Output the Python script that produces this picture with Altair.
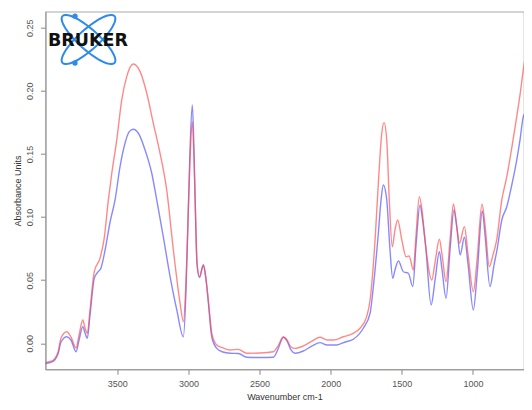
import altair as alt
import pandas as pd
import numpy as np

# Sample 1 (red) spectrum: wavenumber (cm-1) and absorbance
wn_red = [4005, 3959, 3917, 3896, 3856, 3826, 3790, 3769, 3743, 3727, 3711, 3692, 3662, 3622, 3594,
          3563, 3539, 3504, 3469, 3434, 3388, 3340, 3293, 3247, 3200, 3153, 3106, 3059, 3036, 3017,
          3003, 2989, 2973, 2961, 2950, 2940, 2923, 2895, 2880, 2860, 2836, 2801, 2757, 2708, 2649,
          2590, 2497, 2403, 2370, 2333, 2307, 2279, 2251, 2192, 2131, 2075, 2025, 1981, 1911, 1841,
          1794, 1747, 1723, 1688, 1665, 1641, 1625, 1606, 1588, 1567, 1548, 1529, 1500, 1470, 1449,
          1419, 1400, 1377, 1358, 1337, 1289, 1266, 1236, 1217, 1189, 1161, 1137, 1118, 1095, 1060,
          1034, 997, 971, 936, 915, 885, 859, 833, 797, 762, 727, 692, 669, 641, 617, 603, 588]
abs_red = [-0.0152, -0.0140, -0.0069, 0.0042, 0.0092, 0.0050, -0.0037, 0.0066, 0.0185, 0.0121, 0.0079,
           0.0264, 0.0567, 0.0673, 0.0819, 0.1136, 0.1347, 0.1611, 0.1928, 0.2113, 0.2213, 0.2152,
           0.1981, 0.1743, 0.1507, 0.1215, 0.0739, 0.0319, 0.0171, 0.0502, 0.0977, 0.1452, 0.1756,
           0.1452, 0.1003, 0.0636, 0.0528, 0.0620, 0.0541, 0.0343, 0.0079, -0.0013, -0.0037, -0.0053,
           -0.0048, -0.0079, -0.0077, -0.0067, -0.0021, 0.0050, 0.0026, -0.0029, -0.0040, -0.0021,
           0.0018, 0.0048, 0.0026, 0.0026, 0.0052, 0.0079, 0.0119, 0.0211, 0.0343, 0.0819, 0.1268,
           0.1664, 0.1748, 0.1611, 0.1136, 0.0765, 0.0898, 0.0977, 0.0819, 0.0686, 0.0692, 0.0581,
           0.0858, 0.1162, 0.1056, 0.0819, 0.0502, 0.0644, 0.0824, 0.0700, 0.0488, 0.0819, 0.1104,
           0.0961, 0.0792, 0.0924, 0.0700, 0.0409, 0.0660, 0.1104, 0.0937, 0.0607, 0.0700, 0.0819,
           0.1136, 0.1320, 0.1548, 0.1796, 0.1968, 0.2205, 0.2350, 0.2372, 0.2372]

# Sample 2 (blue) spectrum
wn_blue = [4005, 3959, 3917, 3896, 3856, 3826, 3790, 3769, 3743, 3727, 3711, 3692, 3662, 3636, 3615,
           3586, 3551, 3516, 3481, 3446, 3416, 3388, 3352, 3305, 3258, 3223, 3177, 3129, 3082, 3036,
           3017, 3003, 2989, 2973, 2961, 2950, 2940, 2923, 2895, 2880, 2860, 2836, 2801, 2757, 2708,
           2649, 2590, 2497, 2403, 2370, 2333, 2307, 2279, 2251, 2192, 2131, 2075, 2025, 1957, 1899,
           1841, 1771, 1723, 1700, 1665, 1646, 1630, 1606, 1583, 1564, 1548, 1524, 1489, 1454, 1423,
           1400, 1372, 1354, 1332, 1294, 1266, 1236, 1217, 1189, 1161, 1133, 1111, 1090, 1060, 1034,
           997, 971, 934, 915, 880, 852, 831, 797, 762, 727, 692, 669, 646, 634, 611, 588]
abs_blue = [-0.0160, -0.0148, -0.0085, 0.0010, 0.0052, 0.0026, -0.0067, 0.0026, 0.0132, 0.0082, 0.0040,
            0.0224, 0.0515, 0.0565, 0.0597, 0.0739, 0.0961, 0.1136, 0.1399, 0.1585, 0.1677, 0.1696,
            0.1664, 0.1532, 0.1347, 0.1136, 0.0845, 0.0528, 0.0264, 0.0052, 0.0422, 0.0977, 0.1532,
            0.1888, 0.1532, 0.1003, 0.0636, 0.0520, 0.0620, 0.0533, 0.0319, 0.0050, -0.0040, -0.0069,
            -0.0079, -0.0081, -0.0111, -0.0113, -0.0111, -0.0045, 0.0048, 0.0018, -0.0053, -0.0079,
            -0.0061, -0.0021, 0.0005, -0.0013, -0.0013, 0.0010, 0.0032, 0.0119, 0.0238, 0.0449, 0.0872,
            0.1136, 0.1254, 0.1136, 0.0739, 0.0515, 0.0581, 0.0652, 0.0567, 0.0555, 0.0449, 0.0779,
            0.1096, 0.0977, 0.0765, 0.0304, 0.0502, 0.0726, 0.0581, 0.0357, 0.0739, 0.1056, 0.0898,
            0.0700, 0.0840, 0.0620, 0.0264, 0.0541, 0.1048, 0.0858, 0.0449, 0.0620, 0.0739, 0.0977,
            0.1082, 0.1254, 0.1452, 0.1611, 0.1796, 0.1823, 0.1896, 0.1912]

x_ticks = [3500, 3000, 2500, 2000, 1500, 1000]
y_ticks = [0.00, 0.05, 0.10, 0.15, 0.20, 0.25]
x_domain = [4005, 641]
y_domain = [-0.0206, 0.2627]

df_red = pd.DataFrame({"wn": wn_red, "a": abs_red})
df_blue = pd.DataFrame({"wn": wn_blue, "a": abs_blue})

FONT = "Liberation Sans"

x_enc = alt.X("wn:Q",
              scale=alt.Scale(domain=x_domain, nice=False, zero=False),
              axis=alt.Axis(values=x_ticks, format="d", title="Wavenumber cm-1",
                            grid=False, tickSize=5, labelPadding=5,
                            labelFontSize=9, titleFontSize=9, labelFont=FONT, titleFont=FONT,
                            labelColor="#555", titleColor="#333", domainColor="#999",
                            tickColor="#888", titleFontWeight="normal",
                            titleBaseline="middle", titleY=27.5, titleX=239))
y_enc = alt.Y("a:Q",
              scale=alt.Scale(domain=y_domain, nice=False, zero=False),
              axis=alt.Axis(values=y_ticks, format=".2f", title="Absorbance Units",
                            grid=False, tickSize=5, labelPadding=6,
                            labelAngle=270, labelAlign="center", labelBaseline="bottom",
                            labelFontSize=9, titleFontSize=9, labelFont=FONT, titleFont=FONT,
                            labelColor="#555", titleColor="#333", domainColor="#999",
                            tickColor="#888", titleFontWeight="normal",
                            titleAngle=270, titleAlign="center", titleBaseline="middle",
                            titleX=-28))

blue_line = alt.Chart(df_blue).mark_line(
    color="#4a4aff", strokeWidth=1.4, opacity=0.65, interpolate="monotone", clip=True
).encode(x=x_enc, y=y_enc)

red_line = alt.Chart(df_red).mark_line(
    color="#ff4a4a", strokeWidth=1.4, opacity=0.65, interpolate="monotone", clip=True
).encode(x=x_enc, y=y_enc)

# ---- logo (decoration) ----
R = 36.0
def ellipse_path(a, b, theta_deg):
    th = np.radians(theta_deg)
    t = np.linspace(0, 2 * np.pi, 73)
    xs = a * np.cos(t) * np.cos(th) - b * np.sin(t) * np.sin(th)
    ys = a * np.cos(t) * np.sin(th) + b * np.sin(t) * np.cos(th)
    pts = [f"{x / R:.4f},{y / R:.4f}" for x, y in zip(xs, ys)]
    return "M" + " L".join(pts) + " Z"

logo_df = pd.DataFrame({"k": [0]})
logo_blue = "#2f8be8"
ell1 = alt.Chart(logo_df).mark_point(
    shape=ellipse_path(35, 10, 42), size=(2 * R) ** 2, filled=False,
    stroke=logo_blue, strokeWidth=2, opacity=1
).encode(x=alt.value(43), y=alt.value(27.8))
ell2 = alt.Chart(logo_df).mark_point(
    shape=ellipse_path(35, 10, -42), size=(2 * R) ** 2, filled=False,
    stroke=logo_blue, strokeWidth=2, opacity=1
).encode(x=alt.value(43), y=alt.value(27.8))
dot1 = alt.Chart(logo_df).mark_point(
    shape="circle", size=28, filled=True, color=logo_blue, opacity=1
).encode(x=alt.value(29.5), y=alt.value(4.5))
dot2 = alt.Chart(logo_df).mark_point(
    shape="circle", size=28, filled=True, color=logo_blue, opacity=1
).encode(x=alt.value(29.5), y=alt.value(51.3))
logo_text = alt.Chart(logo_df).mark_text(
    text="BRUKER", font="DejaVu Sans", fontSize=17.5, fontWeight="bold",
    color="#111", align="center", baseline="middle"
).encode(x=alt.value(42.5), y=alt.value(29.5))

chart = alt.layer(blue_line, red_line, ell1, ell2, dot1, dot2, logo_text).properties(
    width=478.5, height=357.6,
    padding={"left": 37.5, "top": 3.7, "right": 0, "bottom": 32},
    autosize=alt.AutoSizeParams(type="none"),
).configure_view(stroke="#aaa", strokeWidth=1.2)

chart.save("out.html", embed_options={"renderer": "svg", "actions": False})
